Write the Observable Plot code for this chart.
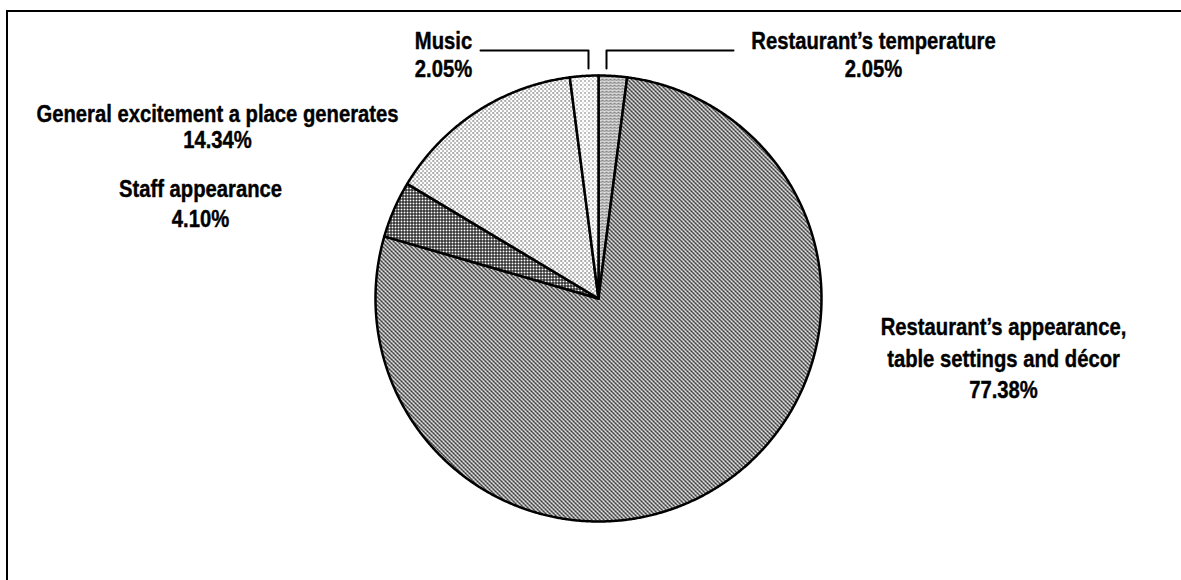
<!DOCTYPE html>
<html>
<head>
<meta charset="utf-8">
<script src="https://cdn.jsdelivr.net/npm/d3@7"></script>
<script src="https://cdn.jsdelivr.net/npm/@observablehq/plot@0.6"></script>
<style>
  html, body { margin: 0; padding: 0; background: #fff; }
  #chart { width: 1181px; height: 580px; overflow: hidden; }
  svg { display: block; }
</style>
</head>
<body>
<div id="chart"></div>
<script>
// ---- data ----
const categories = [
  "Restaurant’s temperature",
  "Restaurant’s appearance,\ntable settings and décor",
  "Staff appearance",
  "General excitement a place generates",
  "Music"
];
const values = [2.05, 77.38, 4.10, 14.34, 2.05];
const valueLabels = ["2.05%", "77.38%", "4.10%", "14.34%", "2.05%"];
const patternIds = ["pZig", "pDense", "pGrid", "pDots", "pSparse"];

// ---- layout (pixels) ----
const W = 1181, H = 580;
const cx = 598, cy = 298, R = 223;
const labelPos = [
  {px: 873, py: 29, lh: 28},
  {px: 1003, py: 313, lh: 31},
  {px: 200, py: 175, lh: 30},
  {px: 217, py: 103, lh: 26},
  {px: 443, py: 29, lh: 28}
];
const leaderPaths = [
  [[733, 50], [606, 50], [606, 68]],
  [[480, 50], [588, 50], [588, 68]]
];
const fontSize = 23;
const squeeze = 0.88;
const ux = px => (px - cx) / R;
const uy = py => (py - cy) / R;

// ---- pie geometry from data ----
const total = d3.sum(values);
const slices = [];
let acc = 0;
values.forEach((v, i) => {
  const a0 = acc / total * 2 * Math.PI;
  acc += v;
  const a1 = acc / total * 2 * Math.PI;
  const n = Math.max(2, Math.ceil((a1 - a0) / 0.005));
  const pattern = `url(#${patternIds[i]})`;
  slices.push({k: i, pattern, x: 0, y: 0});
  for (let j = 0; j <= n; j++) {
    const a = a0 + (a1 - a0) * j / n;
    slices.push({k: i, pattern, x: Math.sin(a), y: -Math.cos(a)});
  }
  slices.push({k: i, pattern, x: 0, y: 0});
});

const labelData = categories.map((c, i) => ({
  text: c + "\n" + valueLabels[i],
  x: ux(labelPos[i].px),
  y: uy(labelPos[i].py),
  lh: labelPos[i].lh
}));

const leaderData = leaderPaths.flatMap((p, k) => p.map(([px, py]) => ({k, x: ux(px), y: uy(py)})));

const font = "'Liberation Sans Narrow', 'Arial Narrow', 'Liberation Sans', Arial, sans-serif";

const chart = Plot.plot({
  width: W,
  height: H,
  margin: 0,
  x: {domain: [ux(0), ux(W)], range: [0, W], axis: null},
  y: {domain: [uy(0), uy(H)], range: [0, H], axis: null},
  color: {type: "identity"},
  style: {background: "#fff", overflow: "visible"},
  marks: [
    Plot.line(slices, {
      x: "x", y: "y", z: "k",
      fill: "pattern",
      stroke: "#000",
      strokeWidth: 2.5,
      strokeLinejoin: "round",
      curve: "linear"
    }),
    Plot.line(leaderData, {x: "x", y: "y", z: "k", stroke: "#000", strokeWidth: 2}),
    ...labelData.map(d => Plot.text([d], {
      x: "x", y: "y", text: "text",
      textAnchor: "middle",
      lineAnchor: "top",
      lineHeight: d.lh / fontSize,
      fontSize,
      fontWeight: "bold",
      fontFamily: font,
      fill: "#000",
      stroke: "#000",
      strokeWidth: 0.4,
      className: "lbl"
    }))
  ]
});

// condense label glyphs horizontally around their anchor
chart.querySelectorAll("g.lbl text").forEach(t => {
  const tr = t.getAttribute("transform") || "";
  t.setAttribute("transform", tr + ` scale(${squeeze},1)`);
});

// pattern definitions
const ns = "http://www.w3.org/2000/svg";
const defs = document.createElementNS(ns, "defs");
defs.innerHTML = `
  <pattern id="pDense" width="4" height="4" patternUnits="userSpaceOnUse" shape-rendering="crispEdges">
    <rect width="4" height="4" fill="#fff"/>
    <rect x="0" y="0" width="2" height="1" fill="#000"/>
    <rect x="1" y="1" width="1" height="1" fill="#000"/>
    <rect x="2" y="2" width="2" height="1" fill="#000"/>
    <rect x="3" y="3" width="1" height="1" fill="#000"/>
    <rect x="3" y="0" width="1" height="1" fill="#888"/>
    <rect x="1" y="2" width="1" height="1" fill="#888"/>
  </pattern>
  <pattern id="pZig" width="4" height="3" patternUnits="userSpaceOnUse">
    <rect width="4" height="3" fill="#fff"/>
    <path d="M0,2.5 L2,0.5 L4,2.5" fill="none" stroke="#000" stroke-width="1"/>
  </pattern>
  <pattern id="pGrid" width="3" height="3" patternUnits="userSpaceOnUse" shape-rendering="crispEdges">
    <rect width="3" height="3" fill="#000"/>
    <rect x="1" y="1" width="2" height="2" fill="#fff"/>
  </pattern>
  <pattern id="pDots" width="4" height="4" patternUnits="userSpaceOnUse" shape-rendering="crispEdges">
    <rect width="4" height="4" fill="#fff"/>
    <rect x="0" y="0" width="1" height="1" fill="#000"/>
    <rect x="2" y="2" width="1" height="1" fill="#000"/>
    <rect x="1" y="0" width="1" height="1" fill="#aaa"/>
  </pattern>
  <pattern id="pSparse" width="4" height="4" patternUnits="userSpaceOnUse" shape-rendering="crispEdges">
    <rect width="4" height="4" fill="#fff"/>
    <rect x="0" y="0" width="1" height="1" fill="#000"/>
    <rect x="2" y="2" width="1" height="1" fill="#888"/>
  </pattern>
`;
chart.insertBefore(defs, chart.firstChild);

// outer frame (continues past the right and bottom edges)
const frame = document.createElementNS(ns, "rect");
frame.setAttribute("x", 7);
frame.setAttribute("y", 11);
frame.setAttribute("width", 1200);
frame.setAttribute("height", 600);
frame.setAttribute("fill", "none");
frame.setAttribute("stroke", "#000");
frame.setAttribute("stroke-width", 2);
chart.appendChild(frame);

document.getElementById("chart").appendChild(chart);
</script>
</body>
</html>
